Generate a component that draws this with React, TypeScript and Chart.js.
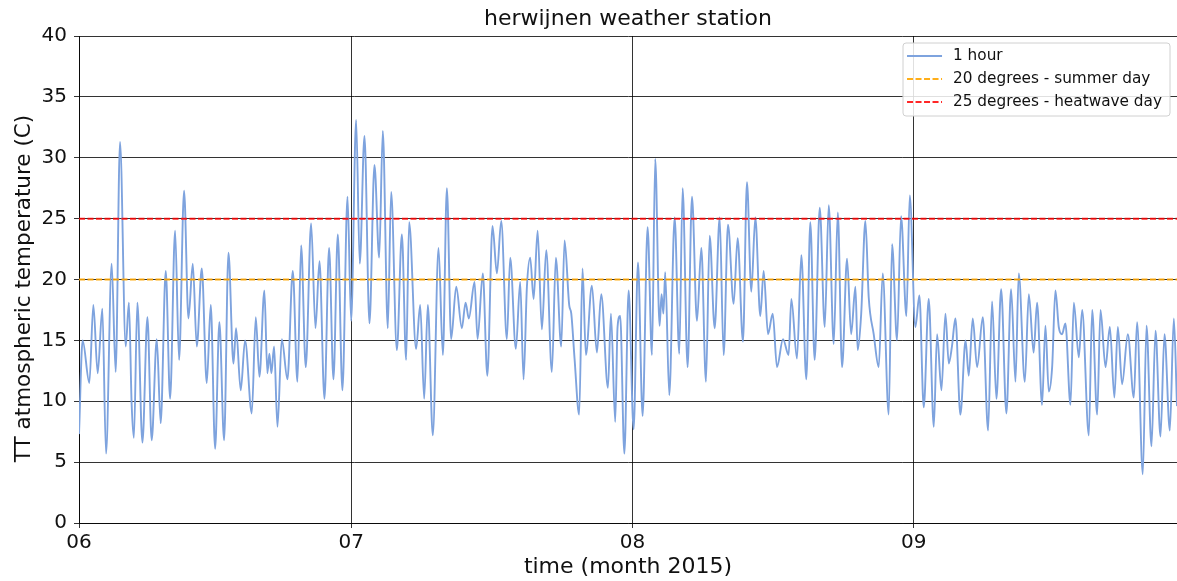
import { useEffect, useRef } from 'react';
import { Chart, registerables } from 'chart.js';

Chart.register(...registerables);

// Time axis: elapsed days since 1 June 2015 00:00.
const monthStartDays = [0, 30, 61, 92];
const monthTickLabels = ['06', '07', '08', '09'];
const lastDay = 121;

// Hourly temperature trace, sampled at its daily turning points (elapsed days, degrees C).
const juneDays = [
  0, 0.4, 1.14, 1.58, 2.06, 2.57, 2.98, 3.6, 4.04, 4.52, 5.15, 5.5, 5.8, 6.05, 6.43, 6.99, 7.54, 8.01,
  8.57, 9.0, 9.56, 10.04, 10.59, 11.03, 11.58, 12.06, 12.54, 12.98, 13.53, 14.08, 14.52, 15.0, 15.47,
  15.99, 16.47, 17.02, 17.31, 17.82, 18.3, 19.04, 19.48, 19.88, 20.43, 20.76, 20.98, 21.2, 21.5, 21.87,
  22.35, 22.97, 23.56, 24.07, 24.48, 24.99, 25.58, 26.06, 26.5, 27.05, 27.56, 28.04, 28.52, 29.03, 29.59,
];
const juneTemps = [
  7.3, 15, 11.5, 17.9, 12.3, 17.6, 5.7, 21.3, 12.4, 31.3, 14.5, 18.1, 9.8, 7.0, 18.1, 6.6, 16.9, 6.8,
  15.1, 8.2, 20.7, 10.2, 24.0, 13.4, 27.3, 16.8, 21.3, 14.5, 20.9, 11.5, 17.9, 6.1, 16.5,
  6.8, 22.2, 13.1, 16.0, 10.9, 15.0, 9.0, 16.9, 12.0, 19.1, 12.3, 13.9, 12.3, 14.5, 7.9,
  15.1, 11.8, 20.7, 11.6, 22.8, 12.8, 24.6, 16.0, 21.5, 10.2, 22.6, 11.8, 23.7, 10.9, 26.8,
];

const julyDays = [
  29.99, 30.54, 30.94, 31.46, 32.01, 32.56, 33.08, 33.48, 34.03, 34.4, 35.03, 35.58, 36.05, 36.38, 37.15,
  37.6, 38.04, 38.44, 38.99, 39.62, 40.1, 40.54, 41.01, 41.57, 42.19, 42.6, 42.96, 43.59, 43.92, 44.5,
  45.0, 45.57, 46.05, 46.53, 47.15, 47.52, 48.14, 48.62, 48.99, 49.36, 49.72, 50.1, 50.54, 51.01, 51.49,
  52.11, 52.55, 53.14, 53.51, 54.02, 54.25, 54.61, 55.12, 55.49, 55.86, 56.52, 57.07, 57.55, 58.29, 58.62,
  59.09, 59.35, 59.64, 60.1, 60.57,
];
const julyTemps = [
  16.6, 33.1, 21.3, 31.8, 16.4, 29.4, 21.8, 32.2, 16.0, 27.2, 14.2, 23.7, 13.4, 24.7, 14.3,
  17.9, 10.2, 17.9, 7.2, 22.6, 13.8, 27.5, 15.1, 19.4, 16.0, 18.1, 16.8, 19.8, 15.1, 20.5,
  12.1, 24.4, 20.5, 24.8, 15.1, 21.8, 14.3, 19.8, 11.8, 19.4, 21.8, 18.4, 24.0, 15.9, 22.4,
  12.4, 21.8, 14.5, 23.2, 17.9, 17.2, 13.5, 8.9, 20.9, 13.8, 19.5, 14.0, 18.8, 11.1, 17.2,
  8.3, 16.1, 17.0, 5.7, 19.1,
];

const augustDays = [
  61.12, 61.6, 62.11, 62.66, 63.14, 63.5, 63.98, 64.2, 64.4, 64.6, 65.05, 65.64, 66.15, 66.52, 67.07,
  67.55, 68.1, 68.58, 69.09, 69.5, 70.05, 70.6, 71.04, 71.52, 72.14, 72.58, 73.17, 73.61, 74.09, 74.53,
  75.08, 75.45, 75.93, 76.45, 76.92, 77.58, 78.2, 78.5, 79.12, 79.6, 80.15, 80.59, 81.07, 81.63, 82.18,
  82.62, 83.17, 83.62, 84.09, 84.64, 85.09, 85.56, 85.81, 86.2, 86.66, 87.03, 87.58, 88.13, 88.57, 89.23,
  89.6, 90.15, 90.59, 91.18, 91.55,
];
const augustTemps = [
  7.7, 21.4, 8.8, 24.3, 13.8, 29.9, 16.2, 18.8, 17.2, 20.6, 10.5, 25.1, 13.9, 27.5, 12.8,
  26.8, 16.6, 22.6, 11.6, 23.6, 16.0, 25.1, 13.8, 24.5, 18.0, 23.4, 14.9, 28.0, 19.0, 25.1,
  17.0, 20.7, 15.5, 17.2, 12.8, 15.1, 13.8, 18.4, 13.5, 22.0, 11.8, 24.7, 13.4, 25.9, 16.1,
  26.1, 14.7, 25.5, 12.8, 21.7, 15.5, 19.4, 14.2, 17.2, 24.8, 18.5, 15.5, 12.8, 20.5, 8.9,
  22.9, 15.0, 25.2, 17.0, 26.9,
];

const septemberDays = [
  92.17, 92.61, 93.09, 93.64, 94.2, 94.56, 95.04, 95.48, 95.85, 96.2, 96.58, 97.13, 97.7, 98.05, 98.49,
  98.97, 99.6, 100.18, 100.62, 101.1, 101.62, 102.2, 102.72, 103.2, 103.56, 104.23, 104.67, 105.2, 105.58,
  106.13, 106.5, 106.87, 107.24, 107.6, 107.97, 108.33, 108.7, 109.26, 109.63, 110.18, 110.55, 111.28,
  111.65, 112.2, 112.57, 113.12, 113.6, 114.1, 114.48, 114.95, 115.58, 116.24, 116.6, 117.23, 117.64,
  118.19, 118.63, 119.18, 119.62, 120.21, 120.65, 121.0,
];
const septemberTemps = [
  16.1, 18.7, 9.5, 18.4, 7.9, 15.5, 10.9, 17.2, 13.1, 14.5, 16.8, 8.9, 15.0, 12.1, 16.8,
  12.8, 16.9, 7.6, 18.2, 10.2, 19.2, 9.0, 19.2, 11.6, 20.5, 11.6, 18.8, 14.0, 18.1,
  9.7, 16.2, 10.8, 12.8, 19.1, 16.1, 15.5, 16.4, 9.7, 18.1, 13.6, 17.5, 7.2,
  17.5, 8.9, 17.5, 12.8, 16.1, 10.3, 16.1, 11.4, 15.5, 10.3, 16.5, 4.0, 16.2,
  6.3, 15.8, 7.1, 15.5, 7.6, 16.8, 9.6,
];

// Reference temperatures drawn as horizontal dashed lines.
const summerDayTemp = 20;
const heatwaveDayTemp = 25;

const chartTitle = 'herwijnen weather station';
const yAxisTitle = 'TT atmospheric temperature (C)';
const xAxisTitle = 'time (month 2015)';

const FONT = 'DejaVu Sans';
const INK = '#111111';
const GRID = 'rgba(0, 0, 0, 0.8)';

const toPoints = (days: number[], temps: number[]) => days.map((d, i) => ({ x: d, y: temps[i] }));

// Chart title centred over the plot area, and the y-axis title beside it.
const plotTitles = {
  id: 'plotTitles',
  afterDraw(chart: any) {
    const { ctx, chartArea } = chart;
    ctx.save();
    ctx.fillStyle = INK;
    ctx.textAlign = 'center';
    ctx.textBaseline = 'middle';
    ctx.font = `22px "${FONT}"`;
    ctx.fillText(chartTitle, (chartArea.left + chartArea.right) / 2, 19);
    ctx.translate(24, (chartArea.top + chartArea.bottom) / 2 + 9);
    ctx.rotate(-Math.PI / 2);
    ctx.font = `21.5px "${FONT}"`;
    ctx.fillText(yAxisTitle, 0, 0);
    ctx.restore();
  },
};

// Boxed legend in the upper-right corner of the plot area, one row per dataset.
const boxLegend = {
  id: 'boxLegend',
  afterDraw(chart: any) {
    const { ctx, chartArea } = chart;
    const datasets = chart.data.datasets;
    ctx.save();
    ctx.font = `15.3px "${FONT}"`;
    const textW = Math.max(...datasets.map((d: any) => ctx.measureText(d.label).width));
    const sampleW = 35;
    const padL = 4;
    const gap = 11;
    const padR = 8;
    const rowH = 23;
    const w = padL + sampleW + gap + textW + padR;
    const h = 12 + rowH * (datasets.length - 1) + 15;
    const right = chartArea.right - 7;
    const left = right - w;
    const top = chartArea.top + 7;
    ctx.beginPath();
    ctx.roundRect(left, top, w, h, 3);
    ctx.fillStyle = 'rgba(255,255,255,0.85)';
    ctx.fill();
    ctx.strokeStyle = '#d0d0d0';
    ctx.lineWidth = 1;
    ctx.stroke();
    datasets.forEach((d: any, i: number) => {
      const y = top + 13 + i * rowH;
      ctx.beginPath();
      ctx.setLineDash(d.borderDash || []);
      ctx.strokeStyle = d.borderColor;
      ctx.lineWidth = d.borderWidth;
      ctx.moveTo(left + padL, y);
      ctx.lineTo(left + padL + sampleW, y);
      ctx.stroke();
      ctx.setLineDash([]);
      ctx.fillStyle = INK;
      ctx.textBaseline = 'middle';
      ctx.textAlign = 'left';
      ctx.fillText(d.label, left + padL + sampleW + gap, y);
    });
    ctx.restore();
  },
};

export default function App() {
  const canvasRef = useRef<HTMLCanvasElement | null>(null);

  useEffect(() => {
    const canvas = canvasRef.current;
    if (!canvas) return;
    const hourly = [
      ...toPoints(juneDays, juneTemps),
      ...toPoints(julyDays, julyTemps),
      ...toPoints(augustDays, augustTemps),
      ...toPoints(septemberDays, septemberTemps),
    ];
    const chart = new Chart(canvas, {
      type: 'line',
      data: {
        datasets: [
          {
            label: '1 hour',
            data: hourly,
            borderColor: '#7ea3de',
            borderWidth: 1.9,
            pointRadius: 0,
            cubicInterpolationMode: 'monotone',
            order: 2,
          },
          {
            label: '20 degrees - summer day',
            data: [
              { x: 0, y: summerDayTemp },
              { x: lastDay, y: summerDayTemp },
            ],
            borderColor: 'rgba(255, 165, 0, 0.9)',
            borderDash: [6, 2.5],
            borderWidth: 2,
            pointRadius: 0,
            order: 1,
          },
          {
            label: '25 degrees - heatwave day',
            data: [
              { x: 0, y: heatwaveDayTemp },
              { x: lastDay, y: heatwaveDayTemp },
            ],
            borderColor: 'rgba(255, 0, 0, 0.85)',
            borderDash: [6, 2.5],
            borderWidth: 2,
            pointRadius: 0,
            order: 1,
          },
        ],
      },
      options: {
        responsive: false,
        animation: false,
        devicePixelRatio: 1,
        layout: { padding: { top: 36, left: 0, right: 0, bottom: 0 } },
        plugins: {
          legend: { display: false },
          tooltip: { enabled: false },
          title: { display: false },
        },
        scales: {
          x: {
            type: 'linear',
            min: 0,
            max: lastDay,
            afterBuildTicks: (scale: any) => {
              scale.ticks = monthStartDays.map((v) => ({ value: v }));
            },
            afterFit: (scale: any) => {
              scale.height = 58;
            },
            ticks: {
              autoSkip: false,
              maxRotation: 0,
              padding: 3,
              color: INK,
              font: { family: FONT, size: 20, lineHeight: 1.2 },
              callback: (v: any) => {
                const i = monthStartDays.indexOf(Number(v));
                return i >= 0 ? monthTickLabels[i] : '';
              },
            },
            grid: { color: GRID, lineWidth: 1, tickLength: 5 },
            border: { color: GRID, width: 1 },
            title: {
              display: true,
              text: xAxisTitle,
              color: INK,
              font: { family: FONT, size: 22, lineHeight: 1.2 },
              padding: { top: 0, bottom: 1 },
            },
          },
          y: {
            min: 0,
            max: 40,
            afterFit: (scale: any) => {
              scale.width = 79;
            },
            ticks: {
              stepSize: 5,
              padding: 7,
              color: INK,
              font: { family: FONT, size: 20, lineHeight: 1.2 },
            },
            grid: { color: GRID, lineWidth: 1, tickLength: 5 },
            border: { color: GRID, width: 1 },
          },
        },
      },
      plugins: [plotTitles, boxLegend],
    } as any);
    return () => chart.destroy();
  }, []);

  return (
    <div style={{ position: 'absolute', left: 0, top: 0, width: 1177, height: 581, background: '#fff' }}>
      <canvas ref={canvasRef} width={1177} height={581} />
    </div>
  );
}
